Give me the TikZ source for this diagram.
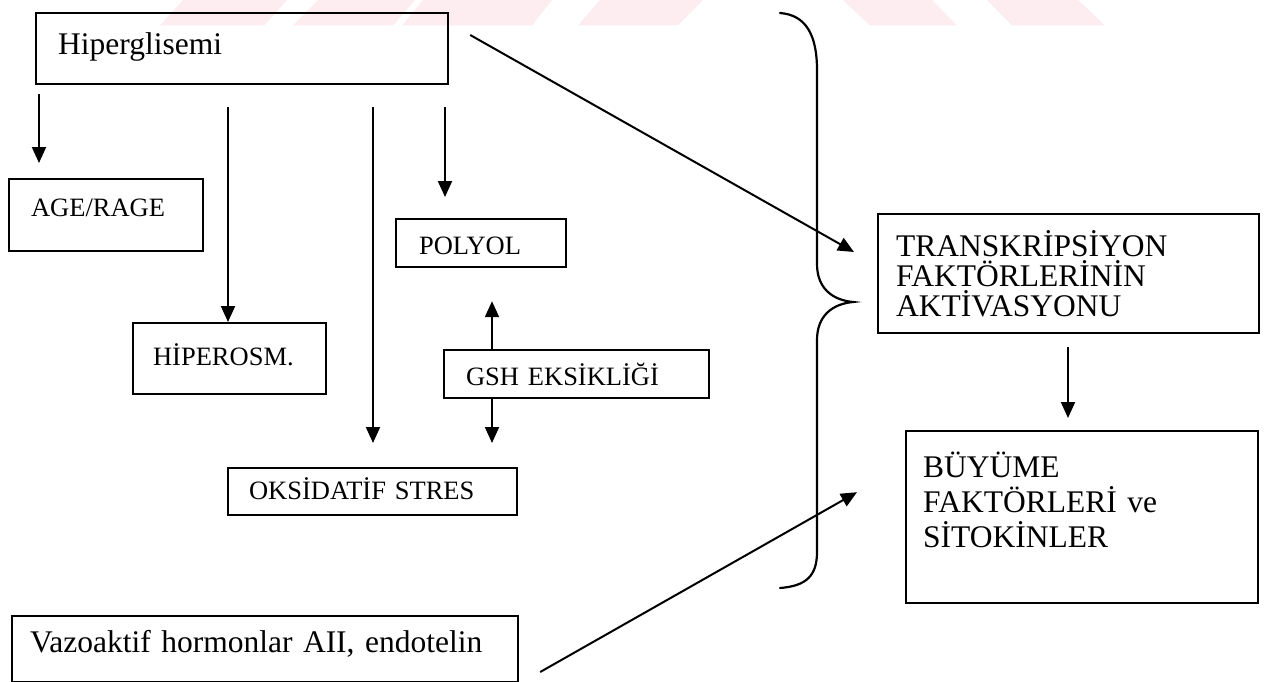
\documentclass[tikz,border=0pt]{standalone}
\usepackage{fontspec}
\setmainfont{Liberation Serif}
\usetikzlibrary{arrows.meta}
\definecolor{wmpink}{RGB}{253,236,240}
\tikzset{
  box/.style={draw, line width=2.2pt, anchor=north west, inner ysep=0pt, align=left,
    font=\fontsize{26.5}{26.5}\selectfont},
  bigbox/.style={box, font=\fontsize{31.5}{30}\selectfont},
  arr/.style={line width=2pt, -{Triangle[length=16pt,width=14pt]}},
  bracepath/.style={line width=2.2pt, line cap=round},
  stripe/.style={fill=wmpink, draw=none},
}
\begin{document}
\begin{tikzpicture}[x=1pt,y=-1pt]
\useasboundingbox (0,0) rectangle (1271,682);

% faint stripes along the top edge
\fill[stripe] (160,25.5) -- (264,25.5) -- (287,0) -- (183,0) -- cycle;
\fill[stripe] (293,25.5) -- (393,25.5) -- (415,0) -- (318,0) -- cycle;
\fill[stripe] (402,25.5) -- (532,25.5) -- (552,0) -- (423,0) -- cycle;
\fill[stripe] (578,25.5) -- (678,25.5) -- (703,0) -- (600,0) -- cycle;
\fill[stripe] (870,25.5) -- (957,25.5) -- (932,0) -- (843,0) -- cycle;
\fill[stripe] (1012,25.5) -- (1105,25.5) -- (1078,0) -- (987,0) -- cycle;

% boxes
\node[bigbox, text width=368pt, inner xsep=22pt, text height=41pt, text depth=30pt]
  (hiper) at (35,12) {Hiperglisemi};
\node[box, text width=150pt, inner xsep=22pt, text height=37pt, text depth=35pt]
  (age) at (8,178) {AGE/RAGE};
\node[box, text width=153pt, inner xsep=20pt, text height=42pt, text depth=29pt]
  (osm) at (132,322) {HİPEROSM.};
\node[box, text width=124pt, inner xsep=23pt, text height=35pt, text depth=13pt]
  (polyol) at (395,218) {POLYOL};
\node[box, text width=221pt, inner xsep=22pt, text height=35pt, text depth=13pt]
  (gsh) at (443,349) {GSH EKSİKLİĞİ};
\node[box, text width=247pt, inner xsep=21pt, text height=31pt, text depth=16pt]
  (oksi) at (227,467) {OKSİDATİF STRES};
\node[bigbox, text width=470pt, inner xsep=18pt, text height=36pt, text depth=30pt]
  (vazo) at (11,615) {Vazoaktif hormonlar AII, endotelin};
\node[bigbox, text width=345pt, inner xsep=18pt, text height=42pt, text depth=77pt]
  (trans) at (877,213) {TRANSKRİPSİYON\\FAKTÖRLERİNİN\\AKTİVASYONU};
\node[bigbox, font=\fontsize{31.5}{35}\selectfont, text width=318pt, inner xsep=17pt,
  text height=46pt, text depth=126pt]
  (grow) at (905,430) {BÜYÜME\\FAKTÖRLERİ ve\\SİTOKİNLER};

% arrows from Hiperglisemi
\draw[arr] ([shift={(4,9)}]hiper.south west) -- ([shift={(31,-15)}]age.north west);
\draw[arr] ([shift={(193,22)}]hiper.south west) -- ([shift={(96,0)}]osm.north west);
\draw[arr] ([shift={(338,22)}]hiper.south west) -- ([shift={(146,-24)}]oksi.north west);
\draw[arr] ([shift={(410,22)}]hiper.south west) -- ([shift={(50,-21)}]polyol.north west);

% GSH deficiency feeds both ways
\draw[arr] ([shift={(49,0)}]gsh.north west) -- ([shift={(97,33)}]polyol.south west);
\draw[arr] ([shift={(49,0)}]gsh.south west) -- ([shift={(265,-24)}]oksi.north west);

% long diagonals into the transcription box
\draw[arr] ([shift={(21,23)}]hiper.north east) -- ([shift={(-23,39)}]trans.north west);
\draw[arr] ([shift={(21,57)}]vazo.north east) -- ([shift={(-20,158)}]trans.south west);

% transcription -> growth factors
\draw[arr] ([shift={(191,13)}]trans.south west) -- ([shift={(163,-12)}]grow.north west);

% curly brace
\draw[bracepath] (780,13) .. controls (806,15) and (817,35) .. (817,70)
  -- (817,264) .. controls (817,288) and (832,300) .. (853,302)
  .. controls (832,304) and (817,316) .. (817,340)
  -- (817,552) .. controls (817,576) and (806,586) .. (780,588);
\end{tikzpicture}
\end{document}
